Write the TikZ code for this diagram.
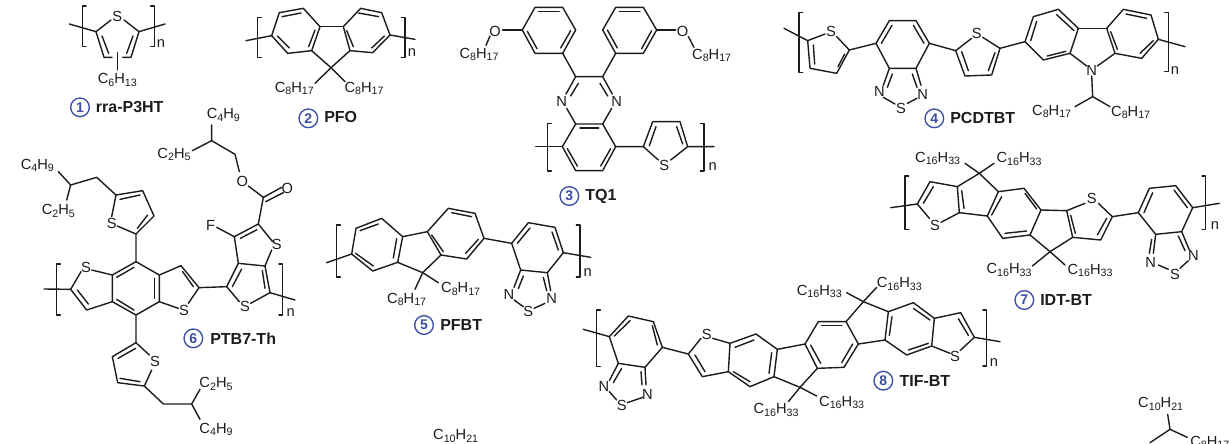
\documentclass[tikz,border=0pt]{standalone}
\usepackage{fontspec}
\setmainfont{Liberation Sans}
\definecolor{ink}{HTML}{1C1C1C}
\definecolor{numblue}{HTML}{3A4EA3}
\newcommand\sbs[1]{\raisebox{-.32ex}{\fontsize{8}{8}\selectfont #1}}
\newcommand\BL[3]{\draw[bond] (#1+11,#2) -- (#1,#2) -- (#1,#3) -- (#1+11,#3);}
\newcommand\BR[3]{\draw[bond] (#1-11,#2) -- (#1,#2) -- (#1,#3) -- (#1-11,#3);}
\tikzset{
  bond/.style={draw=ink,line width=1.05pt,line cap=round,line join=round},
  atomlbl/.style={text=ink,inner sep=0pt,font=\fontsize{11}{12}\selectfont},
  grplbl/.style={text=ink,inner sep=0pt,font=\fontsize{11}{12}\selectfont},
  numc/.style={circle,draw=numblue,line width=1pt,minimum size=14pt,inner sep=0pt,text=numblue,font=\fontsize{10.5}{12}\selectfont\bfseries},
  titlelbl/.style={text=ink,inner sep=0pt,anchor=west,font=\fontsize{12}{14}\selectfont\bfseries},
  zoomed/.style={x=0.25pt,y=-0.25pt}
}
\begin{document}
\begin{tikzpicture}[x=0.75pt,y=-0.75pt]
\useasboundingbox (0,0) rectangle (1230,443);
\clip (0,0) rectangle (1230,443);
\fill[white] (0,0) rectangle (1230,443);

% ---------- 1 rra-P3HT and 2 PFO
\begin{scope}[shift={(0,0)},zoomed]
\draw[bond] (333,60) -- (288,95) -- (312,172) -- (336,172);
\draw[bond] (368,172) -- (393,172) -- (417,95) -- (372,60);
\draw[bond] (306,108) -- (326,160);
\draw[bond] (399,108) -- (380,160);
\draw[bond] (352,158) -- (352,210);
\draw[bond] (208,72) -- (288,95);
\draw[bond] (417,95) -- (495,72);
\BL{247}{18}{140}
\BR{463}{18}{140}
\node[atomlbl] (s1) at (352,48) {S};
\node[atomlbl] (n1) at (483,130) {n};
\node[grplbl] (g1) at (352,240) {C\sbs{6}H\sbs{13}};
\node[numc] (c1) at (240,322) {1};
\node[titlelbl] (l1) at (287,320) {rra-P3HT};
% PFO
\draw[bond] (815,107) -- (838,38) -- (910,25) -- (960,80) -- (935,152) -- (863,160) -- cycle;
\draw[bond] (1030,80) -- (1082,25) -- (1145,38) -- (1170,105) -- (1118,158) -- (1050,152) -- cycle;
\draw[bond] (960,80) -- (1030,80);
\draw[bond] (935,152) -- (993,203) -- (1050,152);
\draw[bond] (846,50) -- (903,39);
\draw[bond] (945,90) -- (926,140);
\draw[bond] (832,108) -- (868,144);
\draw[bond] (1076,39) -- (1136,50);
\draw[bond] (1040,92) -- (1060,140);
\draw[bond] (1153,108) -- (1115,144);
\draw[bond] (738,122) -- (815,107);
\draw[bond] (1170,105) -- (1245,118);
\draw[bond] (993,203) -- (945,250);
\draw[bond] (993,203) -- (1035,245);
\BL{773}{52}{172}
\BR{1215}{52}{172}
\node[atomlbl] (n2) at (1236,158) {n};
\node[grplbl] (g2a) at (883,265) {C\sbs{8}H\sbs{17}};
\node[grplbl] (g2b) at (1092,265) {C\sbs{8}H\sbs{17}};
\node[numc] (c2) at (925,355) {2};
\node[titlelbl] (l2) at (972,350) {PFO};
\end{scope}

% ---------- 3 TQ1
\begin{scope}[shift={(410,0)},zoomed]
\draw[bond] (337,90) -- (375,22) -- (458,22) -- (497,90) -- (458,160) -- (375,160) -- cycle;
\draw[bond] (578,90) -- (617,22) -- (700,22) -- (740,90) -- (700,160) -- (617,160) -- cycle;
\draw[bond] (385,35) -- (448,35);
\draw[bond] (482,92) -- (452,144);
\draw[bond] (352,94) -- (381,146);
\draw[bond] (628,35) -- (690,35);
\draw[bond] (592,90) -- (622,144);
\draw[bond] (725,92) -- (695,146);
\draw[bond] (337,90) -- (278,90);
\draw[bond] (240,108) -- (228,136);
\draw[bond] (740,90) -- (797,90);
\draw[bond] (835,110) -- (852,142);
\draw[bond] (458,160) -- (497,230) -- (578,230) -- (617,160);
\draw[bond] (497,230) -- (468,282);
\draw[bond] (505,250) -- (482,288);
\draw[bond] (578,230) -- (607,282);
\draw[bond] (570,250) -- (593,288);
\draw[bond] (470,325) -- (497,372);
\draw[bond] (605,325) -- (578,372);
\draw[bond] (497,372) -- (578,372) -- (617,440) -- (578,512) -- (497,512) -- (457,440) -- cycle;
\draw[bond] (510,384) -- (566,384);
\draw[bond] (602,446) -- (572,498);
\draw[bond] (472,446) -- (502,498);
\draw[bond] (377,440) -- (457,440);
\draw[bond] (617,440) -- (700,440) -- (728,365) -- (810,365) -- (833,440) -- (912,440);
\draw[bond] (700,440) -- (745,480);
\draw[bond] (782,480) -- (833,440);
\draw[bond] (718,437) -- (738,380);
\draw[bond] (800,380) -- (818,432);
\BL{413}{370}{513}
\BR{882}{370}{513}
\node[atomlbl] (o3a) at (255,93) {O};
\node[atomlbl] (o3b) at (818,93) {O};
\node[atomlbl] (n3a) at (455,303) {N};
\node[atomlbl] (n3b) at (620,303) {N};
\node[atomlbl] (s3) at (763,495) {S};
\node[atomlbl] (n3) at (908,500) {n};
\node[grplbl] (g3a) at (207,163) {C\sbs{8}H\sbs{17}};
\node[grplbl] (g3b) at (905,167) {C\sbs{8}H\sbs{17}};
\node[numc] (c3) at (478,588) {3};
\node[titlelbl] (l3) at (525,590) {TQ1};
\end{scope}

% ---------- 4 PCDTBT
\begin{scope}[shift={(770,0)},zoomed]
\draw[bond] (42,85) -- (113,122) -- (120,205) -- (200,220) -- (238,150) -- (318,130);
\draw[bond] (113,122) -- (165,102);
\draw[bond] (200,110) -- (238,150);
\draw[bond] (130,135) -- (134,192);
\draw[bond] (204,200) -- (224,162);
\draw[bond] (318,130) -- (358,62) -- (438,62) -- (478,130) -- (438,205) -- (358,205) -- cycle;
\draw[bond] (334,130) -- (366,76);
\draw[bond] (430,76) -- (462,130);
\draw[bond] (358,205) -- (340,256);
\draw[bond] (367,222) -- (352,262);
\draw[bond] (438,205) -- (453,256);
\draw[bond] (427,222) -- (441,262);
\draw[bond] (340,292) -- (375,312);
\draw[bond] (441,295) -- (412,310);
\draw[bond] (478,130) -- (557,152) -- (585,228) -- (665,225) -- (690,145) -- (765,125);
\draw[bond] (557,152) -- (605,115);
\draw[bond] (638,112) -- (690,145);
\draw[bond] (575,155) -- (595,212);
\draw[bond] (675,158) -- (655,212);
\draw[bond] (765,125) -- (790,50) -- (865,28) -- (925,85) -- (900,160) -- (820,180) -- cycle;
\draw[bond] (1010,85) -- (1060,28) -- (1143,45) -- (1165,118) -- (1115,175) -- (1035,160) -- cycle;
\draw[bond] (925,85) -- (1010,85);
\draw[bond] (782,122) -- (800,64);
\draw[bond] (860,44) -- (912,92);
\draw[bond] (832,168) -- (888,154);
\draw[bond] (1022,95) -- (1042,148);
\draw[bond] (1068,42) -- (1130,55);
\draw[bond] (1150,122) -- (1110,160);
\draw[bond] (900,160) -- (950,198);
\draw[bond] (1035,160) -- (982,198);
\draw[bond] (965,228) -- (968,290);
\draw[bond] (915,320) -- (968,290) -- (1020,320);
\draw[bond] (1165,118) -- (1245,140);
\BL{87}{38}{218}
\BR{1195}{38}{215}
\node[atomlbl] (s4a) at (183,95) {S};
\node[atomlbl] (n4a) at (328,275) {N};
\node[atomlbl] (n4b) at (458,283) {N};
\node[atomlbl] (s4b) at (393,325) {S};
\node[atomlbl] (s4c) at (620,100) {S};
\node[atomlbl] (n4c) at (965,210) {N};
\node[atomlbl] (n4) at (1215,213) {n};
\node[grplbl] (g4a) at (845,335) {C\sbs{8}H\sbs{17}};
\node[grplbl] (g4b) at (1082,338) {C\sbs{8}H\sbs{17}};
\node[numc] (c4) at (493,355) {4};
\node[titlelbl] (l4) at (540,355) {PCDTBT};
\end{scope}

% ---------- 6 PTB7-Th
\begin{scope}[shift={(0,100)},zoomed]
\draw[bond] (408,485) -- (478,525) -- (478,605) -- (408,645) -- (337,605) -- (337,525) -- cycle;
\draw[bond] (350,532) -- (402,502);
\draw[bond] (463,535) -- (463,595);
\draw[bond] (350,598) -- (402,630);
\draw[bond] (337,525) -- (275,510);
\draw[bond] (243,515) -- (212,568) -- (260,630) -- (337,605);
\draw[bond] (232,570) -- (265,612);
\draw[bond] (478,525) -- (543,497) -- (597,563) -- (565,610);
\draw[bond] (478,605) -- (535,625);
\draw[bond] (548,515) -- (580,560);
\draw[bond] (597,563) -- (680,560) -- (715,490) -- (795,498) -- (810,578);
\draw[bond] (680,560) -- (718,605);
\draw[bond] (752,610) -- (810,578);
\draw[bond] (697,560) -- (725,507);
\draw[bond] (787,512) -- (795,565);
\draw[bond] (715,490) -- (703,410) -- (775,372) -- (818,425);
\draw[bond] (815,450) -- (795,498);
\draw[bond] (721,415) -- (771,389);
\draw[bond] (650,382) -- (703,410);
\draw[bond] (775,372) -- (790,292) -- (845,262);
\draw[bond] (797,305) -- (850,278);
\draw[bond] (790,292) -- (745,258);
\draw[bond] (718,215) -- (705,163) -- (635,122) -- (635,75);
\draw[bond] (635,122) -- (577,152);
\draw[bond] (132,567) -- (212,568);
\draw[bond] (810,578) -- (885,600);
\draw[bond] (408,485) -- (408,402) -- (462,348) -- (428,272) -- (348,285) -- (290,232) -- (212,255) -- (175,215);
\draw[bond] (212,255) -- (200,300);
\draw[bond] (408,402) -- (352,378);
\draw[bond] (335,350) -- (348,285);
\draw[bond] (443,345) -- (412,385);
\draw[bond] (360,298) -- (420,285);
\draw[bond] (408,645) -- (408,728) -- (337,770) -- (353,848) -- (433,858) -- (490,912) -- (575,912) -- (600,868);
\draw[bond] (575,912) -- (600,958);
\draw[bond] (408,728) -- (448,765);
\draw[bond] (455,810) -- (433,858);
\draw[bond] (407,745) -- (354,775);
\draw[bond] (360,835) -- (420,845);
\BL{170}{492}{645}
\BR{848}{492}{645}
\node[atomlbl] (s6a) at (258,503) {S};
\node[atomlbl] (s6b) at (552,630) {S};
\node[atomlbl] (s6c) at (735,620) {S};
\node[atomlbl] (s6d) at (830,432) {S};
\node[atomlbl] (s6e) at (335,370) {S};
\node[atomlbl] (s6f) at (465,785) {S};
\node[atomlbl] (f6) at (632,375) {F};
\node[atomlbl] (o6a) at (727,243) {O};
\node[atomlbl] (o6b) at (862,265) {O};
\node[atomlbl] (n6) at (872,638) {n};
\node[grplbl] (g6a) at (670,45) {C\sbs{4}H\sbs{9}};
\node[grplbl] (g6b) at (522,163) {C\sbs{2}H\sbs{5}};
\node[grplbl] (g6c) at (112,197) {C\sbs{4}H\sbs{9}};
\node[grplbl] (g6d) at (175,333) {C\sbs{2}H\sbs{5}};
\node[grplbl] (g6e) at (648,852) {C\sbs{2}H\sbs{5}};
\node[grplbl] (g6f) at (648,988) {C\sbs{4}H\sbs{9}};
\node[numc] (c6) at (580,715) {6};
\node[titlelbl] (l6) at (630,715) {PTB7-Th};
\end{scope}

% ---------- 5 PFBT
\begin{scope}[shift={(310,200)},zoomed]
\draw[bond] (50,188) -- (125,162) -- (138,85) -- (215,55) -- (278,110) -- (263,187) -- (188,213) -- (125,162);
\draw[bond] (150,92) -- (205,72);
\draw[bond] (260,116) -- (250,174);
\draw[bond] (137,160) -- (190,198);
\draw[bond] (278,110) -- (352,95);
\draw[bond] (352,95) -- (415,25) -- (495,40) -- (522,115) -- (470,177) -- (393,165) -- cycle;
\draw[bond] (425,38) -- (485,50);
\draw[bond] (365,105) -- (400,155);
\draw[bond] (505,118) -- (467,160);
\draw[bond] (393,165) -- (338,218) -- (263,187);
\draw[bond] (338,218) -- (315,268);
\draw[bond] (338,218) -- (385,248);
\draw[bond] (522,115) -- (605,130);
\draw[bond] (605,130) -- (655,68) -- (735,82) -- (760,158) -- (712,218) -- (632,210) -- cycle;
\draw[bond] (622,130) -- (660,84);
\draw[bond] (726,96) -- (745,150);
\draw[bond] (632,210) -- (612,262);
\draw[bond] (640,228) -- (625,266);
\draw[bond] (712,218) -- (722,272);
\draw[bond] (700,232) -- (710,272);
\draw[bond] (612,300) -- (640,320);
\draw[bond] (705,310) -- (672,325);
\draw[bond] (760,158) -- (842,172);
\BL{80}{75}{231}
\BR{810}{75}{231}
\node[atomlbl] (n5a) at (597,282) {N};
\node[atomlbl] (n5b) at (725,295) {N};
\node[atomlbl] (s5) at (655,335) {S};
\node[atomlbl] (n5) at (833,218) {n};
\node[grplbl] (g5a) at (290,298) {C\sbs{8}H\sbs{17}};
\node[grplbl] (g5b) at (452,267) {C\sbs{8}H\sbs{17}};
\node[numc] (c5) at (342,375) {5};
\node[titlelbl] (l5) at (390,375) {PFBT};
\node[grplbl] (g5c) at (437,708) {C\sbs{10}H\sbs{21}};
\end{scope}

% ---------- 7 IDT-BT
\begin{scope}[shift={(870,140)},zoomed]
\draw[bond] (62,203) -- (142,192) -- (180,125) -- (262,140) -- (268,218);
\draw[bond] (142,192) -- (178,235);
\draw[bond] (213,247) -- (268,218);
\draw[bond] (160,190) -- (190,140);
\draw[bond] (275,152) -- (282,205);
\draw[bond] (262,140) -- (328,100) -- (385,155);
\draw[bond] (268,218) -- (352,228);
\draw[bond] (385,155) -- (462,145) -- (513,210) -- (480,285) -- (398,295) -- (352,228) -- cycle;
\draw[bond] (395,170) -- (365,225);
\draw[bond] (465,160) -- (500,207);
\draw[bond] (405,280) -- (470,273);
\draw[bond] (513,210) -- (590,212) -- (608,292) -- (540,335) -- (480,285);
\draw[bond] (590,212) -- (645,190);
\draw[bond] (685,190) -- (727,230) -- (692,300) -- (608,292);
\draw[bond] (602,226) -- (616,280);
\draw[bond] (710,235) -- (682,285);
\draw[bond] (285,70) -- (328,100) -- (372,70);
\draw[bond] (487,378) -- (540,335) -- (585,375);
\draw[bond] (727,230) -- (805,218) -- (838,145) -- (917,137) -- (968,203) -- (935,275) -- (857,283) -- (805,218);
\draw[bond] (822,218) -- (848,158);
\draw[bond] (912,150) -- (952,203);
\draw[bond] (857,283) -- (850,340);
\draw[bond] (845,298) -- (838,340);
\draw[bond] (935,275) -- (958,330);
\draw[bond] (925,288) -- (945,332);
\draw[bond] (865,375) -- (895,388);
\draw[bond] (955,362) -- (930,385);
\draw[bond] (968,203) -- (1048,190);
\BL{105}{108}{268}
\BR{1007}{108}{268}
\node[atomlbl] (s7a) at (195,255) {S};
\node[atomlbl] (s7b) at (665,175) {S};
\node[atomlbl] (n7a) at (842,368) {N};
\node[atomlbl] (n7b) at (970,345) {N};
\node[atomlbl] (s7c) at (915,402) {S};
\node[atomlbl] (n7) at (1035,258) {n};
\node[grplbl] (g7a) at (203,55) {C\sbs{16}H\sbs{33}};
\node[grplbl] (g7b) at (447,57) {C\sbs{16}H\sbs{33}};
\node[grplbl] (g7c) at (417,390) {C\sbs{16}H\sbs{33}};
\node[grplbl] (g7d) at (660,392) {C\sbs{16}H\sbs{33}};
\node[numc] (c7) at (463,480) {7};
\node[titlelbl] (l7) at (510,480) {IDT-BT};
\end{scope}

% ---------- 8 TIF-BT
\begin{scope}[shift={(570,260)},zoomed]
\draw[bond] (40,208) -- (118,230) -- (175,168) -- (250,185) -- (277,262) -- (225,322) -- (145,310) -- (118,230);
\draw[bond] (133,228) -- (180,182);
\draw[bond] (247,197) -- (262,255);
\draw[bond] (145,310) -- (118,362);
\draw[bond] (155,325) -- (130,368);
\draw[bond] (225,322) -- (228,375);
\draw[bond] (213,335) -- (216,375);
\draw[bond] (118,395) -- (140,420);
\draw[bond] (218,412) -- (172,428);
\draw[bond] (277,262) -- (355,282) -- (393,235);
\draw[bond] (428,235) -- (480,250) -- (475,335) -- (397,350) -- (355,282);
\draw[bond] (375,285) -- (405,335);
\draw[bond] (480,250) -- (558,222) -- (622,268) -- (612,350) -- (540,380) -- (475,335);
\draw[bond] (495,262) -- (552,240);
\draw[bond] (605,278) -- (597,340);
\draw[bond] (490,335) -- (540,365);
\draw[bond] (622,268) -- (705,252) -- (742,325) -- (690,382) -- (612,350);
\draw[bond] (705,252) -- (745,185) -- (828,185) -- (865,252) -- (822,322) -- (742,325);
\draw[bond] (755,197) -- (815,197);
\draw[bond] (848,252) -- (815,308);
\draw[bond] (722,255) -- (752,310);
\draw[bond] (828,185) -- (880,125) -- (955,155) -- (945,240) -- (865,252);
\draw[bond] (955,155) -- (1030,128) -- (1093,175) -- (1085,258) -- (1010,285) -- (945,240);
\draw[bond] (966,170) -- (958,226);
\draw[bond] (1030,145) -- (1080,180);
\draw[bond] (1015,270) -- (1075,250);
\draw[bond] (1093,175) -- (1172,158) -- (1213,232) -- (1170,272);
\draw[bond] (1085,258) -- (1140,280);
\draw[bond] (1165,176) -- (1195,226);
\draw[bond] (1213,232) -- (1290,245);
\draw[bond] (830,98) -- (880,125) -- (920,82);
\draw[bond] (655,425) -- (690,382) -- (740,408);
\BL{80}{150}{320}
\BR{1250}{150}{318}
\node[atomlbl] (s8a) at (410,222) {S};
\node[atomlbl] (s8b) at (1155,290) {S};
\node[atomlbl] (n8a) at (102,378) {N};
\node[atomlbl] (n8b) at (232,403) {N};
\node[atomlbl] (s8c) at (155,437) {S};
\node[atomlbl] (n8) at (1272,308) {n};
\node[grplbl] (g8a) at (748,95) {C\sbs{16}H\sbs{33}};
\node[grplbl] (g8b) at (988,72) {C\sbs{16}H\sbs{33}};
\node[grplbl] (g8c) at (618,450) {C\sbs{16}H\sbs{33}};
\node[grplbl] (g8d) at (815,428) {C\sbs{16}H\sbs{33}};
\node[numc] (c8) at (940,362) {8};
\node[titlelbl] (l8) at (988,362) {TIF-BT};
\end{scope}

% ---------- cut-off side chain, bottom right
\begin{scope}[shift={(1100,380)},zoomed]
\draw[bond] (203,103) -- (210,148) -- (150,188);
\draw[bond] (210,148) -- (262,172);
\node[grplbl] (g9a) at (182,72) {C\sbs{10}H\sbs{21}};
\node[grplbl,anchor=west] (g9b) at (270,187) {C\sbs{8}H\sbs{17}};
\end{scope}
\end{tikzpicture}
\end{document}
